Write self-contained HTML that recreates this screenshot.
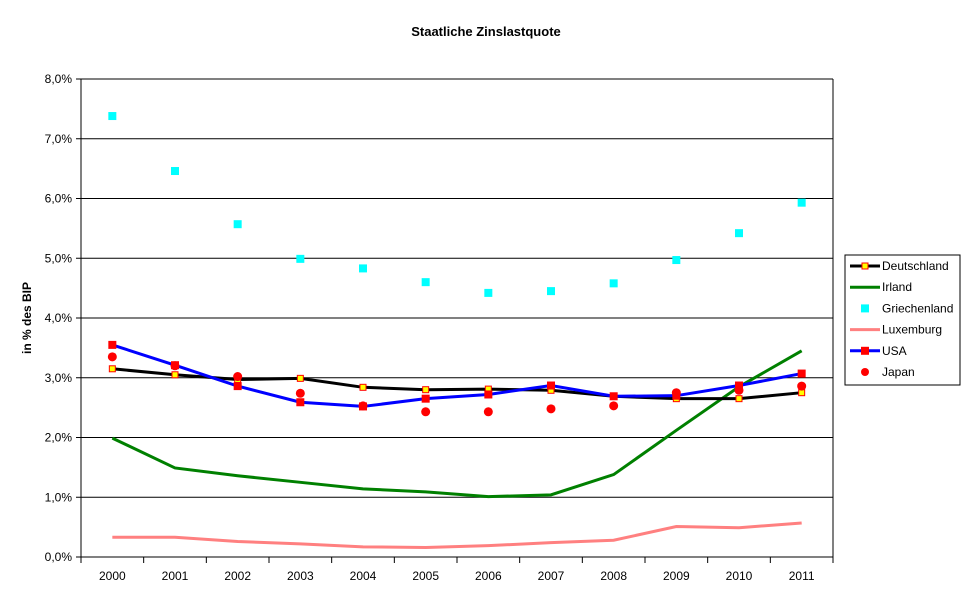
<!DOCTYPE html>
<html><head><meta charset="utf-8"><style>
body{margin:0;background:#fff;}
svg text{font-family:"Liberation Sans",Arial,sans-serif;font-size:12px;fill:#000;}
</style></head><body>
<svg id="chart" width="970" height="603" xmlns="http://www.w3.org/2000/svg">
<rect width="970" height="603" fill="#fff"/>
<text x="486" y="36" text-anchor="middle" font-weight="bold" style="font-size:13px">Staatliche Zinslastquote</text>
<text transform="translate(31,318) rotate(-90)" text-anchor="middle" font-weight="bold">in % des BIP</text>
<g id="grid"></g><g id="axes"></g><g id="series"></g>
<g>
<rect x="845" y="255" width="115" height="130" fill="#fff" stroke="#000"/>
</g><g id="legend"></g>
</svg>
<script>
const years=["2000","2001","2002","2003","2004","2005","2006","2007","2008","2009","2010","2011"];
const yTicks=[0,1,2,3,4,5,6,7,8];
const deutschland=[3.15,3.05,2.97,2.99,2.84,2.80,2.81,2.79,2.69,2.65,2.65,2.75];
const irland=[1.99,1.49,1.36,1.25,1.14,1.09,1.01,1.04,1.38,2.12,2.85,3.45];
const griechenland=[7.38,6.46,5.57,4.99,4.83,4.60,4.42,4.45,4.58,4.97,5.42,5.93];
const luxemburg=[0.33,0.33,0.26,0.22,0.17,0.16,0.19,0.24,0.28,0.51,0.49,0.57];
const usa=[3.55,3.21,2.86,2.59,2.52,2.65,2.72,2.87,2.69,2.70,2.87,3.07];
const japan=[3.35,3.20,3.02,2.74,2.53,2.43,2.43,2.48,2.53,2.75,2.79,2.86];

const NS="http://www.w3.org/2000/svg";
const L=81,R=833,T=79,B=557,step=(R-L)/years.length;
const x=i=>L+step*(i+0.5);
const y=v=>B-(B-T)*v/8;
function mk(tag,attrs,parent){const e=document.createElementNS(NS,tag);for(const k in attrs)e.setAttribute(k,attrs[k]);document.getElementById(parent).appendChild(e);return e;}
yTicks.forEach(t=>{
  if(t>0){const g=mk('line',{x1:L,x2:R,y1:y(t),y2:y(t),stroke:'#000'},'grid');
  
  }
  const tk=mk('line',{x1:L-5,x2:L,y1:y(t),y2:y(t),stroke:'#000'},'axes');
  
  
  const lb=mk('text',{x:L-9,y:y(t)+4,'text-anchor':'end'},'axes');lb.textContent=t.toFixed(1).replace('.',',')+'%';
  
  
});
let ax=mk('line',{x1:L,x2:L,y1:T,y2:B,stroke:'#000'},'axes');


let bx=mk('line',{x1:L,x2:R,y1:B,y2:B,stroke:'#000'},'axes');


let rx=mk('line',{x1:R,x2:R,y1:T,y2:B,stroke:'#000'},'axes');


for(let i=0;i<=years.length;i++){const tk=mk('line',{x1:L+step*i,x2:L+step*i,y1:B,y2:B+6,stroke:'#000'},'axes');

}
years.forEach((yr,i)=>{const t=mk('text',{x:x(i),y:B+23,'text-anchor':'middle'},'axes');t.textContent=yr;

});
function line(arr,color,name){const p=mk('polyline',{points:arr.map((v,i)=>x(i)+','+y(v)).join(' '),fill:'none',stroke:color,'stroke-width':3},'series');

}
function squares(arr,s,fill,stroke,name){arr.forEach((v,i)=>{const r=mk('rect',{x:x(i)-s/2,y:y(v)-s/2,width:s,height:s,fill:fill,stroke:stroke},'series');

});}
line(luxemburg,'#ff8080','luxemburg-line');
line(irland,'#008000','irland-line');
line(deutschland,'#000','deutschland-line');
line(usa,'#0000ff','usa-line');
squares(deutschland,6,'#ffff00','#ff0000','deutschland-marker');
squares(griechenland,8,'#00ffff','none','griechenland-marker');
squares(usa,8,'#ff0000','none','usa-marker');
japan.forEach((v,i)=>{const c=mk('circle',{cx:x(i),cy:y(v),r:4.5,fill:'#ff0000'},'series');

});
const legNames=["Deutschland","Irland","Griechenland","Luxemburg","USA","Japan"];
const legColors=['#000','#008000',null,'#ff8080','#0000ff',null];
legNames.forEach((n,k)=>{const cy=266+k*21.2;
  if(legColors[k]){const l=mk('line',{x1:850,x2:880,y1:cy,y2:cy,stroke:legColors[k],'stroke-width':3},'legend');
  
  }
  if(k===0){const r=mk('rect',{x:862,y:cy-3,width:6,height:6,fill:'#ff0',stroke:'#f00'},'legend');}
  if(k===2){const r=mk('rect',{x:861,y:cy-4,width:8,height:8,fill:'#0ff'},'legend');}
  if(k===4){const r=mk('rect',{x:861,y:cy-4,width:8,height:8,fill:'#f00'},'legend');}
  if(k===5){const c=mk('circle',{cx:865,cy:cy,r:4,fill:'#f00'},'legend');}
  const t=mk('text',{x:882,y:cy+4},'legend');t.textContent=n;
  
  
});
</script>
</body></html>
